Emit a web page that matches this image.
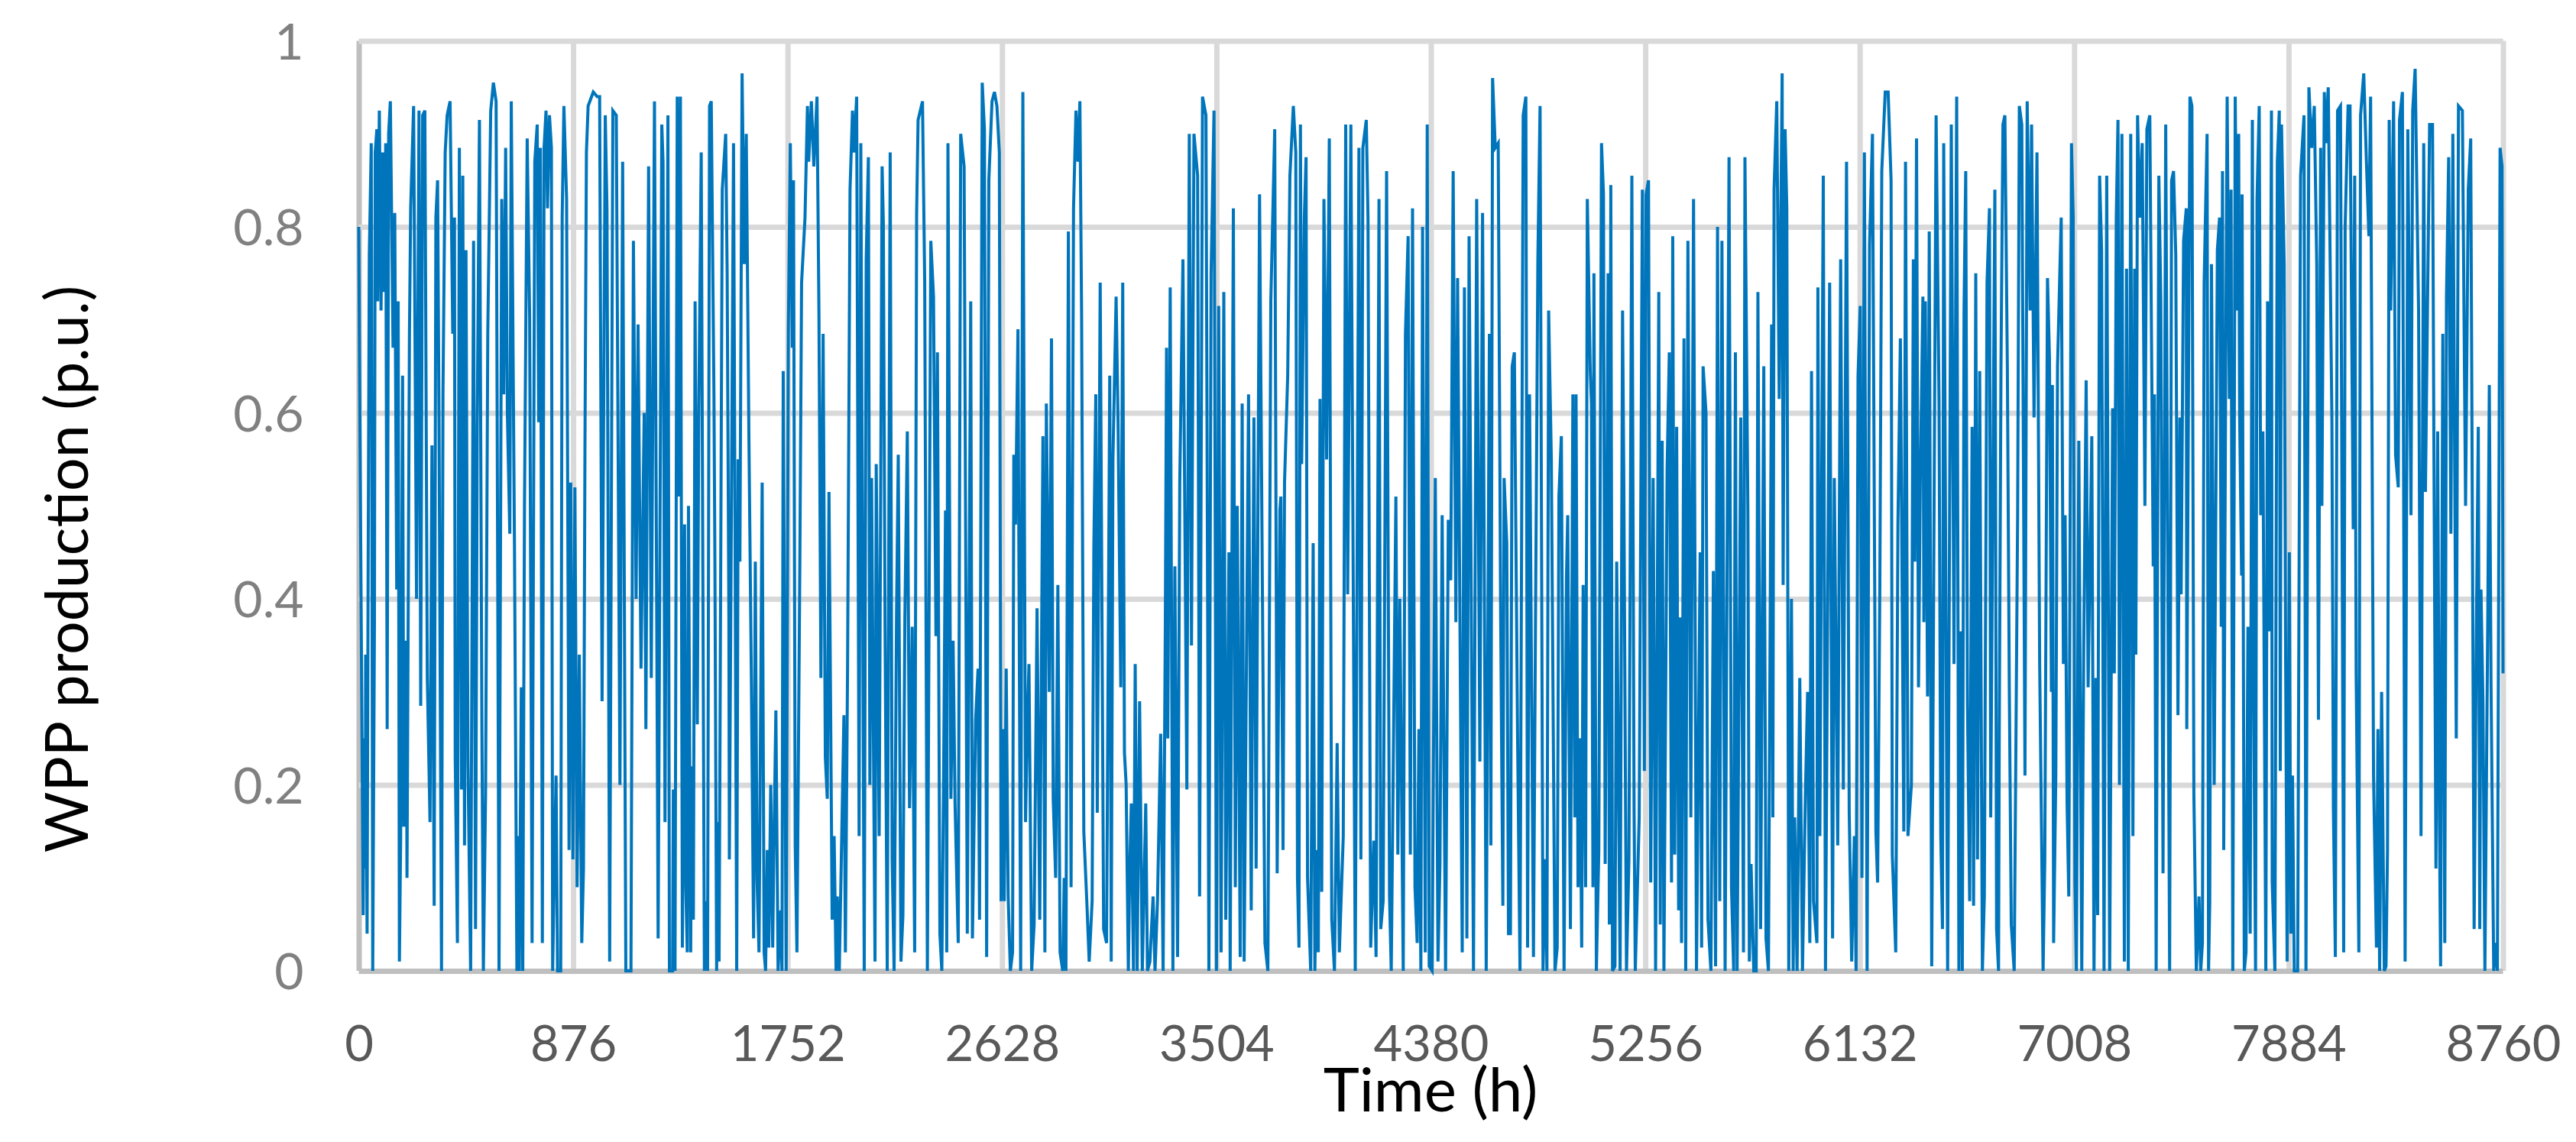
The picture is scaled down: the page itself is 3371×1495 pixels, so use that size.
<!DOCTYPE html>
<html>
<head>
<meta charset="utf-8">
<script src="https://cdn.jsdelivr.net/npm/d3@7"></script>
<style>
  html, body { margin: 0; background: #fff; }
  .axis text { font-family: Lato, sans-serif; font-weight: 400; }
  .title { font-family: Lato, sans-serif; fill: #000; }
</style>
</head>
<body>
<div id="chart"></div>
<script>
// [hour, p.u.], peak to trough, one array per stretch of the year
const stretch1 = [[0,.80],[3,.66],[8,.455],[18,.06],[22,.25],[27,.11],[28,.34],[34,.04],[38,.41],[43,.77],[51,.89],[57,0],[64,.375],[67,.88],[74,.905],[77,.72],[84,.925],[91,.71],[97,.88],[102,.73],[110,.89],[116,.26],[122,.90],[129,.935],[140,.67],[147,.815],[155,.41],[161,.72],[166,.01],[171,.14],[179,.64],[184,.155],[194,.355],[197,.10],[207,.685],[212,.82],[224,.93],[236,.40],[246,.925],[253,.285],[261,.92],[270,.925],[280,.315],[291,.16],[299,.565],[308,.07],[315,.81],[322,.85],[328,.585],[338,0],[344,.62],[353,.88],[361,.92],[373,.935],[384,.685],[391,.81],[394,.23],[403,.03],[411,.885],[420,.195],[425,.855],[432,.135],[438,.775],[446,.225],[457,0],[469,.785],[477,.045],[484,.585],[493,.915],[503,.26],[509,0],[518,.19],[527,.685],[539,.925],[550,.955],[561,.935],[573,0],[584,.83],[592,.62],[600,.885],[607,.60],[617,.47],[623,.935],[636,.46],[646,0],[651,.145],[656,0],[664,.305],[670,0],[677,.50],[688,.895],[698,.705],[708,.03],[719,.87],[729,.91],[735,.59],[742,.885],[750,.03],[757,.885],[765,.925],[771,.82],[779,.92],[787,.885],[792,0],[797,.08],[806,.21],[812,0],[825,0],[831,.81],[838,.93],[849,.83],[859,.13],[866,.525],[875,.12],[883,.52],[892,.09],[901,.34],[911,.03],[918,.11],[924,.56],[930,.88],[937,.93],[958,.945],[974,.94],[984,.94],[994,.29],[1007,.92],[1014,.82],[1025,.01],[1038,.925],[1052,.92],[1067,.2],[1078,.87],[1091,0],[1104,0],[1112,0],[1122,.785],[1133,.40],[1141,.695],[1153,.325],[1166,.60],[1173,.26],[1184,.865],[1195,.315],[1208,.935],[1223,.035]]
const stretch2 = [[1238,.91],[1243,.87],[1251,.16],[1263,.92],[1269,0],[1282,0],[1285,.195],[1292,0],[1301,.94],[1306,.51],[1314,.94],[1322,.025],[1331,.48],[1336,.09],[1342,.02],[1347,.50],[1356,.02],[1360,.22],[1367,.055],[1374,.72],[1383,.265],[1389,.60],[1399,.88],[1412,0],[1420,.075],[1425,0],[1433,.93],[1440,.935],[1451,.62],[1455,.435],[1462,0],[1466,.16],[1472,.01],[1485,.84],[1499,.90],[1505,.75],[1512,.38],[1514,.12],[1531,.89],[1544,0],[1550,.55],[1557,.44],[1566,.965],[1575,.76],[1583,.90],[1594,.57],[1604,.31],[1613,.035],[1620,.44],[1627,.10],[1635,.02],[1648,.525],[1656,.02],[1662,0],[1669,.13],[1675,.025],[1683,.20],[1691,.025],[1695,.115],[1704,.28],[1713,0],[1724,.065],[1729,0],[1734,.645],[1746,0],[1755,.69],[1763,.89],[1771,.67],[1776,.85],[1783,.135],[1790,.02],[1802,.44],[1809,.74],[1823,.81],[1833,.93],[1838,.87],[1849,.935],[1859,.865],[1872,.94],[1880,.705],[1888,.315],[1897,.685],[1906,.23],[1914,.185],[1921,.515],[1927,.305],[1934,.055],[1942,.145],[1950,0],[1955,.08],[1963,0],[1971,.115],[1982,.275],[1988,.02],[1997,.33],[2007,.84],[2017,.925],[2023,.88],[2034,.94],[2044,.145],[2051,.89],[2065,0],[2073,.765],[2082,.875],[2088,.20],[2095,.53],[2109,.01],[2114,.545],[2126,.145],[2138,.865],[2143,.805],[2150,.37],[2159,0],[2171,.88],[2179,.12],[2187,0],[2197,.385],[2204,.555],[2215,.01],[2223,.06],[2231,.38],[2241,.58],[2250,.175],[2261,.37],[2271,.02],[2279,.815],[2285,.915],[2303,.935],[2312,.74],[2323,0],[2337,.785],[2348,.725],[2358,.36],[2364,.665],[2374,.04],[2382,0],[2389,.20],[2397,.495],[2402,.02],[2407,.89],[2419,.185],[2428,.355],[2436,.18],[2449,.03],[2459,.90],[2473,.865],[2486,.04],[2500,.72]]
const stretch3 = [[2507,.035],[2520,.27],[2530,.325],[2536,.055],[2547,.955],[2556,.905],[2565,.015],[2574,.85],[2587,.935],[2597,.945],[2607,.93],[2617,.88],[2624,.075],[2634,.26],[2637,.075],[2645,.325],[2653,.08],[2662,0],[2671,.02],[2676,.555],[2683,.48],[2693,.69],[2704,0],[2713,.945],[2724,.16],[2730,.25],[2738,.33],[2749,0],[2759,.05],[2771,.39],[2782,.055],[2795,.575],[2803,.02],[2809,.61],[2821,.30],[2830,.68],[2837,.185],[2847,.10],[2856,.415],[2865,.02],[2876,0],[2882,.10],[2889,0],[2899,.795],[2910,.09],[2920,.82],[2930,.925],[2938,.87],[2946,.935],[2953,.705],[2962,.15],[2975,.07],[2984,.01],[2996,.075],[3003,.455],[3011,.62],[3017,.17],[3029,.74],[3043,.045],[3055,.03],[3068,.64],[3074,.01],[3081,.55],[3094,.725],[3102,.59],[3113,.305],[3121,.74],[3128,.235],[3135,.20],[3144,0],[3149,.10],[3156,.18],[3165,0],[3172,.33],[3180,0],[3190,.29],[3201,0],[3215,.18],[3222,0],[3232,.01],[3245,.08],[3253,0],[3263,.075],[3276,.255],[3286,0],[3295,.37],[3300,.67],[3305,.25],[3315,.735],[3326,0],[3334,.435],[3345,.015],[3354,.525],[3367,.765],[3383,.195],[3393,.90],[3402,.35],[3412,.90],[3427,.855],[3435,.08],[3447,.94],[3461,.92],[3473,0],[3482,.75],[3494,.925],[3504,0],[3513,.715],[3523,.02],[3534,.73],[3542,.055],[3555,.45],[3560,0],[3573,.82],[3581,.09],[3589,.50],[3601,.015],[3609,.61],[3617,.01],[3635,.62],[3646,.065],[3657,.595],[3666,.11],[3680,.835],[3693,.36],[3702,.03],[3714,0],[3726,.72],[3742,.905],[3752,.105],[3763,.495]]
const stretch4 = [[3767,.51],[3776,.13],[3782,.525],[3795,.64],[3804,.855],[3818,.93],[3828,.88],[3835,.10],[3841,.025],[3847,.91],[3852,.545],[3863,.81],[3870,.875],[3876,.10],[3889,0],[3899,.46],[3906,0],[3913,.13],[3920,.02],[3927,.615],[3934,.085],[3943,.83],[3954,.55],[3965,.895],[3975,.055],[3986,0],[3997,.245],[4006,.02],[4022,.145],[4032,.91],[4040,.405],[4053,.91],[4071,0],[4086,.885],[4094,.12],[4102,.885],[4116,.915],[4123,.81],[4134,.025],[4147,.14],[4156,.015],[4168,.83],[4175,.045],[4185,.075],[4199,.86],[4211,.08],[4218,0],[4237,.51],[4245,.125],[4253,.40],[4267,0],[4276,.685],[4287,.79],[4296,.125],[4305,.82],[4315,.09],[4324,.03],[4331,.26],[4339,0],[4346,.80],[4357,.02],[4365,.91],[4373,.005],[4385,0],[4388,.13],[4398,.53],[4409,.01],[4417,.115],[4426,.49],[4440,0],[4451,.485],[4461,.42],[4471,.86],[4482,.375],[4489,.745],[4508,.02],[4517,.735],[4527,.035],[4536,.79],[4554,0],[4567,.83],[4580,.225],[4591,.815],[4606,0],[4619,.685],[4625,.135],[4632,.96],[4643,.885],[4655,.89],[4665,.38],[4674,.07],[4679,.53],[4690,.46],[4697,.04],[4705,.04],[4712,.65],[4721,.665],[4734,.255],[4744,0],[4757,.92],[4768,.94],[4775,.025],[4783,.62],[4799,.015],[4807,.36],[4817,.765],[4826,.93],[4838,0],[4849,.12],[4854,0],[4861,.71],[4872,.55],[4887,0],[4896,.025],[4903,.51],[4913,.575],[4924,0],[4934,.425],[4939,.49],[4950,.045],[4960,.62],[4968,.165],[4973,.62],[4981,.09],[4989,.25],[4996,.025],[5002,.415],[5012,.09],[5019,.83]]
const stretch5 = [[5031,.645],[5036,.61],[5042,.09],[5046,.75],[5056,0],[5066,.13],[5077,.89],[5085,.835],[5092,.115],[5104,.75],[5109,.05],[5115,.845],[5122,0],[5132,.005],[5139,.44],[5153,0],[5163,.71],[5168,.53],[5179,0],[5189,.12],[5201,.855],[5210,.175],[5215,0],[5231,.165],[5244,.84],[5252,.215],[5259,.835],[5269,.85],[5278,.095],[5288,.53],[5298,0],[5311,.73],[5317,.05],[5325,.57],[5332,0],[5345,.54],[5354,.665],[5363,.095],[5368,.79],[5376,.125],[5384,.585],[5392,.065],[5397,.38],[5404,.03],[5414,.68],[5421,0],[5430,.785],[5442,.165],[5453,.83],[5465,0],[5480,.45],[5486,.025],[5492,.65],[5504,.60],[5512,.055],[5524,0],[5534,.43],[5543,.005],[5551,.80],[5560,.075],[5569,.785],[5582,0],[5598,.875],[5608,.09],[5617,0],[5624,.665],[5631,0],[5646,.595],[5657,.02],[5663,.875],[5675,.495],[5681,.01],[5688,.115],[5699,0],[5709,0],[5716,.73],[5727,.045],[5740,.65],[5749,.035],[5759,0],[5772,.695],[5777,.165],[5782,.84],[5793,.935],[5803,.615],[5815,.965],[5819,.415],[5827,.905],[5834,.82],[5842,0],[5853,.40],[5860,0],[5866,.165],[5876,0],[5887,.315],[5898,0],[5910,.19],[5919,.30],[5928,.03],[5935,.645],[5943,.075],[5957,.03],[5961,.735],[5969,.145],[5983,.855],[5992,0],[6009,.74],[6021,.035],[6028,.53],[6042,.135],[6054,.765],[6065,.195],[6078,.87],[6089,.17],[6099,.01],[6110,.145],[6117,0],[6125,.64],[6134,.715],[6141,.10],[6151,.88],[6162,0],[6172,.78],[6184,.90],[6198,.15],[6205,.095],[6214,.41],[6222,.86],[6236,.945],[6248,.945],[6260,.85],[6265,.125],[6279,.02],[6288,.48]]
const stretch6 = [[6298,.68],[6312,.15],[6319,.87],[6329,.145],[6343,.20],[6351,.765],[6357,.44],[6364,.895],[6372,.305],[6379,.52],[6390,.725],[6394,.375],[6400,.72],[6409,.295],[6416,.795],[6426,.005],[6444,.92],[6456,.61],[6463,.145],[6470,.045],[6475,.89],[6491,0],[6506,.91],[6517,.33],[6528,.94],[6537,0],[6546,.365],[6551,0],[6558,.71],[6565,.86],[6572,.29],[6581,.075],[6591,.585],[6597,.07],[6606,.75],[6613,.12],[6622,.645],[6633,0],[6641,.08],[6652,.74],[6662,.82],[6667,.165],[6684,.84],[6691,.045],[6699,0],[6702,.26],[6709,.65],[6717,.91],[6725,.92],[6735,.65],[6743,.305],[6751,.05],[6763,0],[6777,.49],[6784,.93],[6794,.91],[6807,.21],[6816,.935],[6828,.71],[6834,.91],[6844,.595],[6856,.88],[6867,.33],[6881,0],[6888,.12],[6899,.745],[6907,.66],[6915,.30],[6919,.63],[6924,.03],[6933,.21],[6940,.65],[6955,.81],[6964,.33],[6971,.49],[6979,.18],[6986,.08],[6997,.89],[7004,.81],[7011,.095],[7017,0],[7027,.57],[7039,0],[7047,.345],[7057,.635],[7065,.305],[7080,.575],[7089,0],[7097,.315],[7104,.06],[7112,.855],[7120,.775],[7130,0],[7141,.855],[7153,0],[7165,.605],[7172,.32],[7180,.81],[7187,.915],[7193,.20],[7203,.90],[7213,.01],[7222,.755],[7229,0],[7239,.90],[7248,.145],[7255,.755],[7260,.34],[7267,.92],[7276,.81],[7286,.89],[7297,.50],[7305,.905],[7317,.92],[7331,.435],[7336,.62],[7343,0],[7354,.855],[7362,.72],[7371,.105],[7382,.91],[7398,0],[7406,.85],[7414,.86],[7423,.77],[7432,.275],[7440,.595],[7445,.405],[7455,.785],[7466,.82],[7468,.26],[7481,.94],[7489,.93],[7497,.19],[7507,0],[7518,.08],[7525,0],[7532,.03],[7539,.74],[7551,.90],[7557,0]]
const stretch7 = [[7562,.075],[7569,.76],[7580,.20],[7593,.775],[7602,.81],[7609,.37],[7614,.86],[7619,.13],[7627,.65],[7633,.94],[7642,.615],[7649,.84],[7656,0],[7666,.94],[7673,.71],[7680,.90],[7684,.595],[7692,.425],[7694,.835],[7703,0],[7710,.02],[7718,.37],[7727,.04],[7736,.915],[7742,.28],[7749,0],[7755,.83],[7764,.93],[7770,.49],[7779,.58],[7791,0],[7798,.72],[7805,.365],[7814,.925],[7817,.095],[7828,0],[7838,.87],[7846,.925],[7850,.215],[7855,.91],[7866,.76],[7872,.33],[7878,.01],[7887,.45],[7893,.04],[7900,.21],[7907,0],[7921,0],[7929,.585],[7933,.855],[7947,.92],[7955,0],[7967,.95],[7978,.885],[7989,.93],[7999,.76],[8006,.27],[8015,.885],[8020,.50],[8030,.945],[8036,.89],[8046,.95],[8061,.59],[8067,.175],[8075,.015],[8084,.925],[8096,.93],[8109,.02],[8115,.80],[8127,.93],[8135,.93],[8148,.475],[8154,.855],[8160,.32],[8171,.02],[8178,.92],[8191,.965],[8202,.87],[8212,.79],[8219,.94],[8231,.21],[8243,.025],[8249,.26],[8256,0],[8264,.30],[8275,0],[8282,.005],[8288,.13],[8295,.915],[8301,.71],[8313,.935],[8321,.555],[8332,.52],[8337,.915],[8349,.945],[8360,.01],[8371,.905],[8384,.49],[8391,.925],[8401,.97],[8415,.71],[8425,.145],[8436,.89],[8443,.515],[8460,.91],[8472,.91],[8477,.595],[8486,.11],[8493,.58],[8500,.165],[8505,.005],[8514,.685],[8522,.03],[8529,.725],[8538,.875],[8547,.47],[8555,.90],[8569,.25],[8578,.93],[8594,.925],[8607,.50],[8618,.84],[8628,.895],[8642,.045],[8651,.36],[8659,.585],[8665,.045],[8670,.41],[8678,.29],[8686,0],[8698,.39],[8704,.63],[8711,.31],[8722,0],[8730,.03],[8737,0],[8748,.885],[8756,.865],[8760,.32]]

const xTicks = [0, 876, 1752, 2628, 3504, 4380, 5256, 6132, 7008, 7884, 8760]
const yTicks = [0, 0.2, 0.4, 0.6, 0.8, 1]

const production = [stretch1, stretch2, stretch3, stretch4, stretch5, stretch6, stretch7]
  .flat()
  .sort((a, b) => a[0] - b[0])

const width = 3371
const height = 1495
const margin = { top: 53.5, left: 469.5, right: 95.5, bottom: 224 }

const svg = d3
  .select('#chart')
  .append('svg')
  .attr('width', width)
  .attr('height', height)
  .style('display', 'block')

const xPositionScale = d3
  .scaleLinear()
  .domain([0, 8760])
  .range([margin.left, width - margin.right])

const yPositionScale = d3
  .scaleLinear()
  .domain([0, 1])
  .range([height - margin.bottom, margin.top])

// grid first, the line sits on top of it
const xAxis = d3
  .axisBottom(xPositionScale)
  .tickValues(xTicks)
  .tickFormat(d3.format('d'))
  .tickSize(-(height - margin.top - margin.bottom))
  .tickPadding(72)

const yAxis = d3
  .axisLeft(yPositionScale)
  .tickValues(yTicks)
  .tickFormat(d => d)
  .tickSize(-(width - margin.left - margin.right))
  .tickPadding(72)

const gx = svg
  .append('g')
  .attr('class', 'axis x-axis')
  .attr('transform', `translate(0,${height - margin.bottom})`)
  .call(xAxis)

const gy = svg
  .append('g')
  .attr('class', 'axis y-axis')
  .attr('transform', `translate(${margin.left},0)`)
  .call(yAxis)

svg.selectAll('.axis .domain').remove()
svg.selectAll('.axis line').attr('stroke', '#d9d9d9').attr('stroke-width', 7)
gx.selectAll('text').attr('font-size', 65).attr('fill', '#595959')
gy.selectAll('text').attr('font-size', 66).attr('fill', '#808080').attr('dy', '0.36em')

// left and bottom edges are darker than the grid
gx.selectAll('.tick')
  .filter(d => d === 0)
  .select('line')
  .attr('stroke', '#bfbfbf')
gy.selectAll('.tick')
  .filter(d => d === 0)
  .select('line')
  .attr('stroke', '#bfbfbf')
gy.selectAll('.tick').filter(d => d === 0).raise()

const line = d3
  .line()
  .x(d => xPositionScale(d[0]))
  .y(d => yPositionScale(d[1]))

svg
  .append('path')
  .datum(production)
  .attr('d', line)
  .attr('fill', 'none')
  .attr('stroke', '#0075bb')
  .attr('stroke-width', 4)
  .attr('stroke-linejoin', 'miter')

svg
  .append('text')
  .attr('class', 'title')
  .attr('text-anchor', 'middle')
  .attr('x', 1872)
  .attr('y', 1455)
  .attr('font-size', 80)
  .text('Time (h)')

svg
  .append('text')
  .attr('class', 'title')
  .attr('text-anchor', 'middle')
  .attr('transform', 'translate(115,745) rotate(-90)')
  .attr('font-size', 77)
  .text('WPP production (p.u.)')
</script>
</body>
</html>
